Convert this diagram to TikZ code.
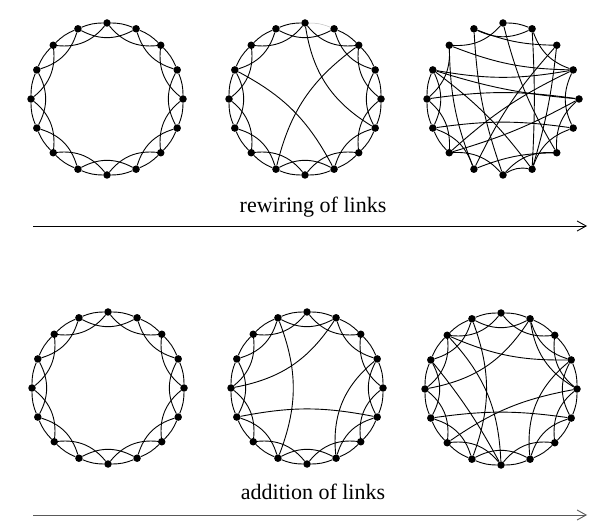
\documentclass[tikz,border=0pt]{standalone}
\usepackage{fontspec}
\setmainfont{Liberation Serif}
\usetikzlibrary{arrows.meta}

\begin{document}
\begin{tikzpicture}[
    x=1pt, y=1pt,
    dot/.style={circle, fill=black, inner sep=0pt, minimum size=7.5pt},
    link/.style={line width=0.9pt},
    faded/.style={line width=0.5pt, black!25},
    arrow/.style={-{Straight Barb[length=9pt, width=10pt]}, line width=0.9pt},
    caption/.style={anchor=base, font=\fontsize{22}{26}\selectfont}
]
\useasboundingbox (0,0) rectangle (604,527);

% six rings of 16 nodes each
\foreach \g/\cx/\cy in {latA/107/428, rewA/305/428, rewB/503/428,
                        latB/108/139, addA/307/139, addB/501/138}
  \foreach \i in {0,...,15}
    \path (\cx,\cy) ++({90-22.5*\i}:76pt) node[dot] (\g\i) {};

% nearest neighbours
\foreach \g/\s in {latA/0, rewA/1, latB/0, addA/0, addB/0}
  \foreach \i in {\s,...,15} {
    \pgfmathtruncatemacro\j{mod(\i+1,16)}
    \draw[link, bend left=11] (\g\i) to (\g\j);
  }
\draw[faded, bend left=11] (rewA0) to (rewA1);

% next-nearest neighbours
\foreach \g in {latA, rewA, latB, addA, addB}
  \foreach \i in {0,...,15} {
    \pgfmathtruncatemacro\k{mod(\i+2,16)}
    \draw[link, bend right=28] (\g\i) to (\g\k);
  }

% a few rewired links
\foreach \p/\q/\b in {0/5/-25, 2/9/-20, 13/7/17}
  \draw[link, bend left=\b] (rewA\p) to (rewA\q);

% fully rewired
\foreach \p/\q/\b in {0/1/11, 15/1/-25, 14/0/-25, 1/3/-25, 1/7/3, 15/2/-10,
                      14/3/-10, 13/3/-10, 13/4/-6, 12/4/8, 11/5/8, 10/4/-6,
                      10/3/8, 9/2/8, 2/7/5, 15/8/-8, 7/13/-8, 5/7/-25,
                      12/14/-25, 11/13/-25, 9/11/-25, 4/6/-25, 3/5/-25,
                      9/6/10, 10/12/-25, 12/13/11, 11/12/11, 8/10/-25,
                      7/8/-20, 14/9/-10, 6/0/8, 10/11/11, 6/8/-25}
  \draw[link, bend left=\b] (rewB\p) to (rewB\q);

% a few added links
\foreach \p/\q/\b in {15/9/21, 12/1/-23, 11/5/11, 3/7/-28}
  \draw[link, bend left=\b] (addA\p) to (addA\q);

% many added links
\foreach \p/\q/\b in {12/1/-23, 14/3/-12, 11/5/8, 3/7/-28, 4/10/-12,
                      15/9/20, 14/8/20, 13/8/5, 1/4/-25}
  \draw[link, bend left=\b] (addB\p) to (addB\q);

% arrows and captions
\coordinate (rewStart) at (33,301);
\coordinate (rewEnd) at (587,301);
\draw[arrow] (rewStart) -- (rewEnd);
\node[caption] (rewText) at (313,314) {rewiring of links};

\coordinate (addStart) at (33,12);
\coordinate (addEnd) at (587,12);
\draw[arrow, black!65] (addStart) -- (addEnd);
\node[caption] (addText) at (313,28) {addition of links};

\end{tikzpicture}
\end{document}
